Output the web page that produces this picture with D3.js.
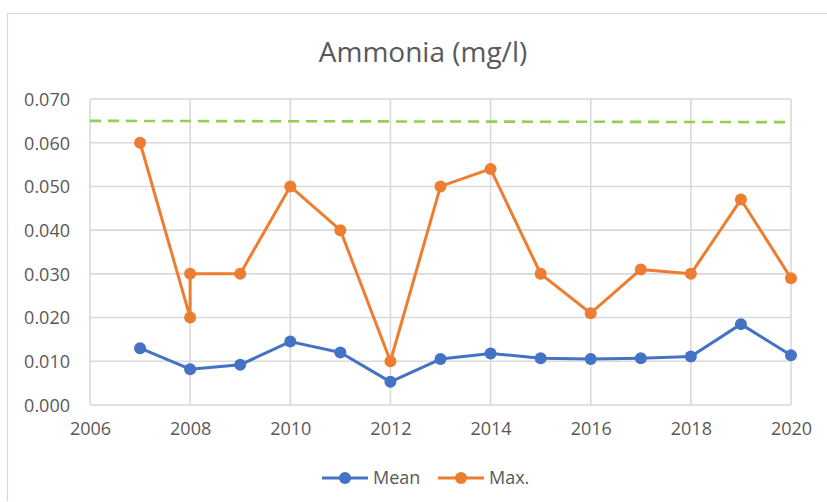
<!DOCTYPE html>
<html>
<head>
<meta charset="utf-8">
<script src="https://cdn.jsdelivr.net/npm/d3@7"></script>
<style>
  html, body { margin: 0; padding: 0; background: #fff; }
  svg { display: block; font-family: "Open Sans", sans-serif; }
</style>
</head>
<body>
<svg id="chart" width="827" height="502"></svg>
<script>
// Ammonia concentrations (mg/l) by year
const meanYears  = [2007, 2008, 2009, 2010, 2011, 2012, 2013, 2014, 2015, 2016, 2017, 2018, 2019, 2020];
const meanValues = [0.0130, 0.0082, 0.0092, 0.0145, 0.0120, 0.0053, 0.0105, 0.0118, 0.0107, 0.0105, 0.0107, 0.0111, 0.0185, 0.0114];

// 2008 has two maximum readings
const maxYears  = [2007, 2008, 2008, 2009, 2010, 2011, 2012, 2013, 2014, 2015, 2016, 2017, 2018, 2019, 2020];
const maxValues = [0.060, 0.020, 0.030, 0.030, 0.050, 0.040, 0.010, 0.050, 0.054, 0.030, 0.021, 0.031, 0.030, 0.047, 0.029];

// Reference limit line
const limitYears  = [2006, 2020];
const limitValues = [0.0650, 0.0647];

const xTicks = [2006, 2008, 2010, 2012, 2014, 2016, 2018, 2020];
const yTicks = [0, 0.01, 0.02, 0.03, 0.04, 0.05, 0.06, 0.07];

const titleText = "Ammonia (mg/l)";
const seriesNames = ["Mean", "Max."];

const colors = { mean: "#4472C4", max: "#ED7D31", limit: "#92D050", grid: "#D9D9D9", text: "#595959" };

const svg = d3.select("#chart");
const plot = { left: 90, right: 791, top: 99, bottom: 405 };

const x = d3.scaleLinear().domain([2006, 2020]).range([plot.left, plot.right]);
const y = d3.scaleLinear().domain([0, 0.07]).range([plot.bottom, plot.top]);

// outer chart frame (top and left edges visible)
svg.append("path")
  .attr("d", `M7.5,501 V13.5 H827`)
  .attr("fill", "none")
  .attr("stroke", "#D9D9D9")
  .attr("stroke-width", 1.2);

// title
svg.append("text")
  .attr("x", 423)
  .attr("y", 62)
  .attr("text-anchor", "middle")
  .attr("fill", colors.text)
  .attr("font-size", 28)
  .text(titleText);

// gridlines
const grid = svg.append("g");
grid.selectAll("line.h").data(yTicks).join("line")
  .attr("x1", plot.left).attr("x2", plot.right)
  .attr("y1", d => y(d)).attr("y2", d => y(d))
  .attr("stroke", colors.grid).attr("stroke-width", 1.6);
grid.selectAll("line.v").data(xTicks).join("line")
  .attr("y1", plot.top).attr("y2", plot.bottom)
  .attr("x1", d => x(d)).attr("x2", d => x(d))
  .attr("stroke", colors.grid).attr("stroke-width", 1.6);

// axes (labels only)
const yAxis = d3.axisLeft(y).tickValues(yTicks).tickFormat(d3.format(".3f")).tickSize(0).tickPadding(20);
const gy = svg.append("g").attr("transform", `translate(${plot.left},0)`).call(yAxis);
const xAxis = d3.axisBottom(x).tickValues(xTicks).tickFormat(d3.format("d")).tickSize(0).tickPadding(17);
const gx = svg.append("g").attr("transform", `translate(0,${plot.bottom})`).call(xAxis);
[gx, gy].forEach(g => {
  g.select(".domain").remove();
  g.selectAll("text")
    .attr("fill", colors.text)
    .attr("font-size", 18)
    .attr("font-family", "'Open Sans', sans-serif");
});
gy.selectAll("text").attr("dy", "0.35em");

// limit line
const limitData = limitYears.map((d, i) => [d, limitValues[i]]);
svg.append("path")
  .datum(limitData)
  .attr("d", d3.line().x(d => x(d[0])).y(d => y(d[1])))
  .attr("fill", "none")
  .attr("stroke", colors.limit)
  .attr("stroke-width", 2.6)
  .attr("stroke-dasharray", "11,7");

function drawSeries(years, values, color) {
  const data = years.map((d, i) => [d, values[i]]);
  const g = svg.append("g");
  g.append("path")
    .datum(data)
    .attr("d", d3.line().x(d => x(d[0])).y(d => y(d[1])))
    .attr("fill", "none")
    .attr("stroke", color)
    .attr("stroke-width", 3)
    .attr("stroke-linejoin", "round");
  g.selectAll("circle").data(data).join("circle")
    .attr("cx", d => x(d[0]))
    .attr("cy", d => y(d[1]))
    .attr("r", 6)
    .attr("fill", color);
}

drawSeries(meanYears, meanValues, colors.mean);
drawSeries(maxYears, maxValues, colors.max);

// legend
const legend = svg.append("g").attr("transform", "translate(0,478)");
const legendItems = [
  { name: seriesNames[0], color: colors.mean, x: 322 },
  { name: seriesNames[1], color: colors.max, x: 438 }
];
legendItems.forEach(item => {
  const g = legend.append("g").attr("transform", `translate(${item.x},0)`);
  g.append("line").attr("x1", 0).attr("x2", 46).attr("y1", 0).attr("y2", 0)
    .attr("stroke", item.color).attr("stroke-width", 3);
  g.append("circle").attr("cx", 23).attr("cy", 0).attr("r", 6).attr("fill", item.color);
  g.append("text").attr("x", 51).attr("y", 0).attr("dy", "0.35em")
    .attr("fill", colors.text).attr("font-size", 18).text(item.name);
});
</script>
</body>
</html>
